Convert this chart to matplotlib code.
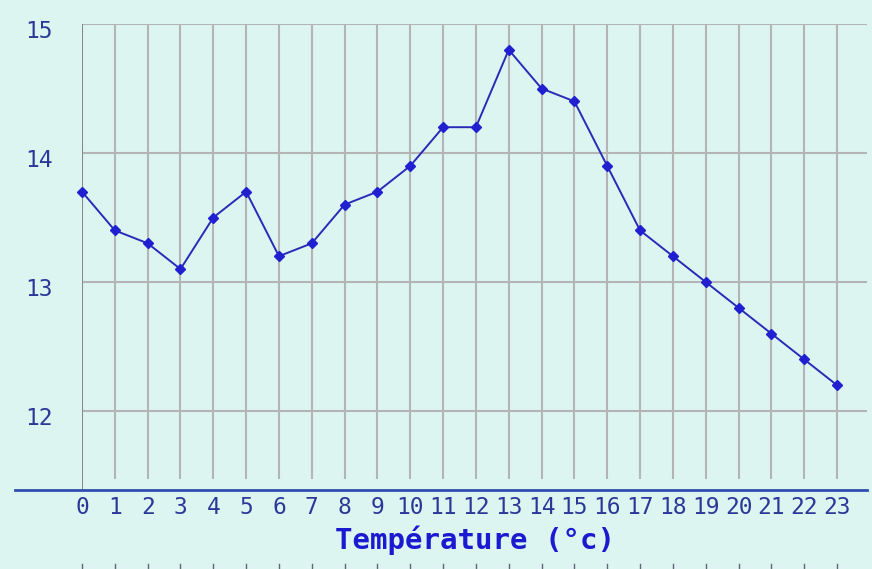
import matplotlib
matplotlib.use("Agg")
import matplotlib.pyplot as plt
from matplotlib.lines import Line2D
import matplotlib.transforms as mtransforms

hours = list(range(24))
temps = [13.7, 13.4, 13.3, 13.1, 13.5, 13.7, 13.2, 13.3, 13.6, 13.7, 13.9, 14.2,
         14.2, 14.8, 14.5, 14.4, 13.9, 13.4, 13.2, 13.0, 12.8, 12.6, 12.4, 12.2]
y_ticks = [12, 13, 14, 15]
x_labels = [str(h) for h in hours]
xlabel = "Température (°c)"

W, H = 872, 569
bg = "#dcf5f0"
fig = plt.figure(figsize=(W / 100, H / 100), dpi=100, facecolor=bg)

left_px, right_px, top_px, bot_px = 82, 867, 24, 490
ax = fig.add_axes([left_px / W, 1 - bot_px / H, (right_px - left_px) / W, (bot_px - top_px) / H])
ax.set_facecolor(bg)

px_per_hour = (837 - 82) / 23
px_per_unit = 129.0
ax.set_xlim(0, (right_px - left_px) / px_per_hour)
ax.set_ylim(15 - (bot_px - top_px) / px_per_unit, 15)

for s in ax.spines.values():
    s.set_visible(False)

grid_c = "#b4b4b4"
y_grid_bottom = 15 - (479 - top_px) / px_per_unit
ax.vlines(hours[1:], y_grid_bottom, 15, colors=grid_c, lw=1.5, zorder=1)
ax.hlines(y_ticks, 0, ax.get_xlim()[1], colors=grid_c, lw=1.5, zorder=1)
ax.vlines([0], ax.get_ylim()[0], 15, colors="#8a8a8a", lw=1.5, zorder=2)

ax.plot(hours, temps, color="#2a2ab8", lw=1.4, marker="D", ms=5.5,
        mfc="#2020d0", mec="#2020d0", zorder=3, clip_on=False)

ax.set_xticks(hours)
ax.set_xticklabels(x_labels)
ax.set_yticks(y_ticks)
ax.set_yticklabels([str(v) for v in y_ticks])
ax.tick_params(axis="x", length=0, pad=4, labelsize=16.5, labelcolor="#2a3898")
ax.tick_params(axis="y", length=0, pad=21, labelsize=16.5, labelcolor="#2a3898")
for lab in ax.get_xticklabels() + ax.get_yticklabels():
    lab.set_family("DejaVu Sans Mono")
shift = mtransforms.ScaledTranslation(0, -5 / 100, fig.dpi_scale_trans)
for lab in ax.get_yticklabels():
    lab.set_transform(lab.get_transform() + shift)

# Blue base axis line
fig.add_artist(Line2D([15 / W, 867 / W], [1 - 490 / H, 1 - 490 / H],
                      color="#3050b0", lw=2, transform=fig.transFigure))

fig.text(475 / W, 1 - 540 / H, xlabel, ha="center", va="center",
         family="DejaVu Sans Mono", fontweight="bold", fontsize=21, color="#1a1ad0")

# tiny marks at the very bottom edge
for h in hours:
    xp = (82 + h * px_per_hour) / W
    fig.add_artist(Line2D([xp, xp], [0, 5 / H], color="#606878", lw=1,
                          transform=fig.transFigure))

fig.savefig("out.png", dpi=100, facecolor=bg)
